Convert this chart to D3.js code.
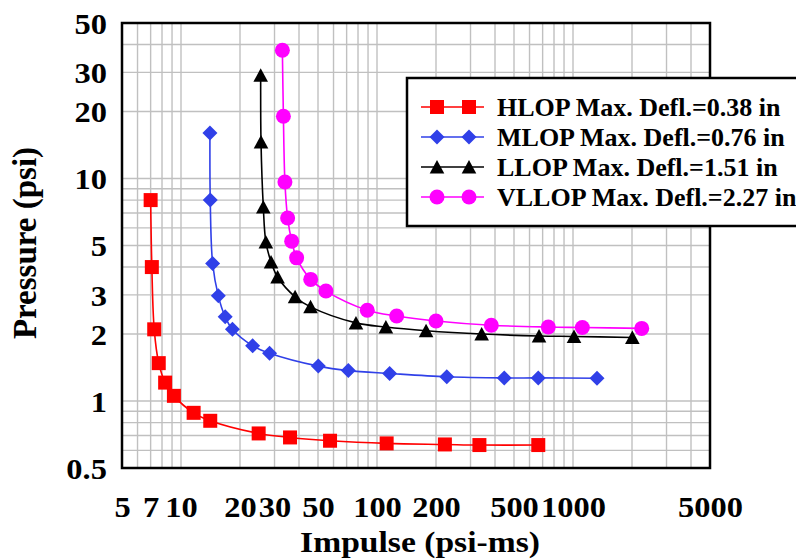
<!DOCTYPE html>
<html>
<head>
<meta charset="utf-8">
<script src="https://cdn.jsdelivr.net/npm/d3@7"></script>
<style>
    body { margin: 0; background: #fff; }
    svg text { font-family: 'Liberation Serif', 'Times New Roman', serif; font-weight: bold; fill: #000; }
</style>
</head>
<body>
<div id="chart"></div>
<script>
// values (impulse in psi-ms, pressure in psi)
var hlopImpulse = [7.0, 7.1, 7.3, 7.7, 8.3, 9.2, 11.6, 14.1, 24.9, 36, 57.6, 112, 222, 333, 665]
var hlopPressure = [8.0, 4.0, 2.1, 1.48, 1.21, 1.055, 0.885, 0.815, 0.715, 0.686, 0.663, 0.645, 0.638, 0.634, 0.634]

var mlopImpulse = [14.05, 14.1, 14.5, 15.5, 16.8, 18.3, 23.2, 28.3, 50.2, 71.4, 116, 227, 446, 665, 1326]
var mlopPressure = [16.0, 8.0, 4.15, 2.97, 2.39, 2.1, 1.77, 1.64, 1.435, 1.37, 1.33, 1.285, 1.27, 1.27, 1.265]

var llopImpulse = [25.5, 25.6, 26.3, 27.1, 28.8, 31.1, 38.2, 45.8, 78.1, 111, 178, 342, 671, 1012, 2008]
var llopPressure = [29.1, 14.6, 7.45, 5.19, 4.22, 3.61, 2.94, 2.65, 2.245, 2.15, 2.07, 2.0, 1.96, 1.95, 1.93]

var vllopImpulse = [32.9, 33.3, 33.9, 35.0, 36.7, 38.9, 45.9, 54.9, 89.2, 126, 200, 383, 748, 1116, 2242]
var vllopPressure = [37.7, 19.05, 9.65, 6.65, 5.23, 4.40, 3.52, 3.12, 2.56, 2.41, 2.29, 2.19, 2.15, 2.14, 2.12]

var seriesNames = ['HLOP Max. Defl.=0.38 in', 'MLOP Max. Defl.=0.76 in', 'LLOP Max. Defl.=1.51 in', 'VLLOP Max. Defl.=2.27 in']
var xTicks = [5, 7, 10, 20, 30, 50, 100, 200, 500, 1000, 5000]
var yTicks = [0.5, 1, 2, 3, 5, 10, 20, 30, 50]

var series = [
    {name: seriesNames[0], x: hlopImpulse, y: hlopPressure, color: '#ff0000', shape: 'square'},
    {name: seriesNames[1], x: mlopImpulse, y: mlopPressure, color: '#3040e8', shape: 'diamond'},
    {name: seriesNames[2], x: llopImpulse, y: llopPressure, color: '#000000', shape: 'triangle'},
    {name: seriesNames[3], x: vllopImpulse, y: vllopPressure, color: '#ff00ff', shape: 'circle'}
]

var size = ({width: 796, height: 560})
var margin = ({top: 23, right: 86, bottom: 92, left: 122})

var x = d3.scaleLog()
    .domain([5, 5000])
    .range([margin.left, size.width - margin.right])

var y = d3.scaleLog()
    .domain([0.5, 50])
    .range([size.height - margin.bottom, margin.top])

function gridValues(lo, hi) {
    var out = []
    for (var p = 0.1; p <= 1000; p *= 10) {
        for (var k = 1; k <= 9; k++) {
            var v = +(k * p).toPrecision(3)
            if (v >= lo && v <= hi) out.push(v)
        }
    }
    return out
}

function markerPath(shape) {
    if (shape === 'square') return 'M-7,-7H7V7H-7Z'
    if (shape === 'diamond') return 'M0,-7.5L7.5,0L0,7.5L-7.5,0Z'
    if (shape === 'triangle') return 'M0,-7L7.3,6.5H-7.3Z'
    return d3.symbol(d3.symbolCircle, Math.PI * 7.5 * 7.5)()
}

const svg = d3.select('#chart')
    .append('svg')
    .attr('width', size.width)
    .attr('height', size.height)
    .attr('viewBox', [0, 0, size.width, size.height])

// grid
svg.append('g')
    .selectAll('line')
    .data(gridValues(5, 5000))
    .join('line')
        .attr('x1', d => x(d)).attr('x2', d => x(d))
        .attr('y1', margin.top).attr('y2', size.height - margin.bottom)
        .attr('stroke', '#c0c0c0')
        .attr('stroke-width', 1.4)

svg.append('g')
    .selectAll('line')
    .data(gridValues(0.5, 50))
    .join('line')
        .attr('x1', margin.left).attr('x2', size.width - margin.right)
        .attr('y1', d => y(d)).attr('y2', d => y(d))
        .attr('stroke', '#c0c0c0')
        .attr('stroke-width', 1.4)

// axes
var xAxis = g => g
    .attr('transform', `translate(0, ${size.height - margin.bottom})`)
    .call(d3.axisBottom(x).tickValues(xTicks).tickFormat(d3.format('d')).tickSize(0))

var yAxis = g => g
    .attr('transform', `translate(${margin.left}, 0)`)
    .call(d3.axisLeft(y).tickValues(yTicks).tickFormat(d => String(d)).tickSize(0))

svg.append('g')
    .call(xAxis)
    .call(g => g.select('.domain').remove())
    .selectAll('text')
        .attr('y', 49)
        .attr('dy', null)
        .attr('font-size', 29)
        .attr('font-family', null)
        .attr('transform', 'scale(1.12,1)')

svg.append('g')
    .call(yAxis)
    .call(g => g.select('.domain').remove())
    .selectAll('text')
        .attr('x', -13.5)
        .attr('dy', '0.35em')
        .attr('font-size', 29)
        .attr('font-family', null)
        .attr('transform', 'scale(1.12,1)')

// plot frame
svg.append('rect')
    .attr('x', margin.left)
    .attr('y', margin.top)
    .attr('width', size.width - margin.right - margin.left)
    .attr('height', size.height - margin.bottom - margin.top)
    .attr('fill', 'none')
    .attr('stroke', '#000')
    .attr('stroke-width', 2.5)

// series
var line = d3.line()
    .x(d => x(d[0]))
    .y(d => y(d[1]))
    .curve(d3.curveCatmullRom.alpha(0.5))

series.forEach(function (s) {
    var pts = s.x.map((v, i) => [v, s.y[i]])
    svg.append('path')
        .datum(pts)
        .attr('fill', 'none')
        .attr('stroke', s.color)
        .attr('stroke-width', 1.6)
        .attr('d', line)
    svg.append('g')
        .selectAll('path')
        .data(pts)
        .join('path')
            .attr('transform', d => `translate(${x(d[0])}, ${y(d[1])})`)
            .attr('d', markerPath(s.shape))
            .attr('fill', s.color)
})

// axis titles
svg.append('text')
    .attr('transform', 'translate(420, 552) scale(1.12,1)')
    .attr('text-anchor', 'middle')
    .attr('font-size', 30)
    .text('Impulse (psi-ms)')

svg.append('text')
    .attr('transform', 'translate(36, 243) rotate(-90)')
    .attr('text-anchor', 'middle')
    .attr('font-size', 33)
    .text('Pressure (psi)')

// legend
var legend = svg.append('g')

legend.append('rect')
    .attr('x', 407)
    .attr('y', 78)
    .attr('width', 420)
    .attr('height', 148)
    .attr('fill', '#fff')
    .attr('stroke', '#000')
    .attr('stroke-width', 2.5)

var legendRow = d3.scaleBand()
    .domain(seriesNames)
    .range([92, 212])

series.forEach(function (s) {
    var cy = legendRow(s.name) + legendRow.bandwidth() / 2
    legend.append('line')
        .attr('x1', 421).attr('x2', 484)
        .attr('y1', cy).attr('y2', cy)
        .attr('stroke', s.color)
        .attr('stroke-width', 1.6)
    legend.selectAll(null)
        .data([437, 469])
        .join('path')
            .attr('transform', d => `translate(${d}, ${cy})`)
            .attr('d', markerPath(s.shape))
            .attr('fill', s.color)
    legend.append('text')
        .attr('x', 497)
        .attr('y', cy + 9)
        .attr('font-size', 26)
        .text(s.name)
})
</script>
</body>
</html>
